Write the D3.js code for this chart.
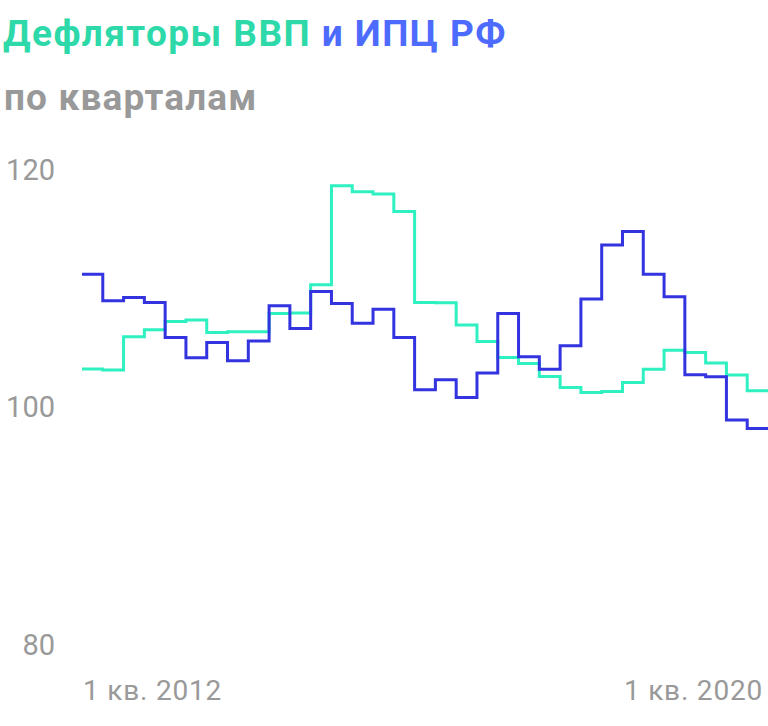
<!DOCTYPE html>
<html>
<head>
<meta charset="utf-8">
<script src="https://cdn.jsdelivr.net/npm/d3@7"></script>
<style>
  html, body { margin: 0; padding: 0; background: #fff; }
  svg { display: block; font-family: Roboto, "Noto Sans", sans-serif; }
</style>
</head>
<body>
<svg id="chart" width="768" height="726"></svg>
<script>
// Quarters 2012Q1 .. 2020Q1
const quarters = ["2012Q1","2012Q2","2012Q3","2012Q4","2013Q1","2013Q2","2013Q3","2013Q4",
  "2014Q1","2014Q2","2014Q3","2014Q4","2015Q1","2015Q2","2015Q3","2015Q4",
  "2016Q1","2016Q2","2016Q3","2016Q4","2017Q1","2017Q2","2017Q3","2017Q4",
  "2018Q1","2018Q2","2018Q3","2018Q4","2019Q1","2019Q2","2019Q3","2019Q4","2020Q1"];
// GDP deflator (teal)
const deflator = [103.25,103.15,105.95,106.54,107.24,107.36,106.32,106.37,
  106.37,107.92,107.95,110.33,118.67,118.16,117.97,116.5,
  108.85,108.82,106.94,105.56,104.21,103.71,102.61,101.68,
  101.26,101.35,102.1,103.23,104.83,104.63,103.74,102.73,101.41];
// CPI (blue)
const cpi = [111.23,108.99,109.26,108.84,105.9,104.2,105.47,103.93,
  105.6,108.56,106.65,109.77,108.76,107.1,108.28,105.9,
  101.49,102.33,100.84,102.9,107.92,104.27,103.23,105.2,
  109.13,113.68,114.82,111.23,109.32,102.75,102.58,98.94,98.23];
const yTicks = [80, 100, 120];
const xLabels = ["1 кв. 2012", "1 кв. 2020"];

const svg = d3.select("#chart");

// Title
const title = svg.append("text").attr("x", 3).attr("y", 46)
  .attr("font-size", 37).attr("font-weight", 700).attr("letter-spacing", 1.45);
title.append("tspan").attr("fill", "#2ed9a9").text("Дефляторы ВВП ");
title.append("tspan").attr("fill", "#4d6bfe").text("и ИПЦ РФ");

svg.append("text").attr("x", 4).attr("y", 110)
  .attr("font-size", 37).attr("font-weight", 700).attr("fill", "#999")
  .attr("letter-spacing", 1.15)
  .text("по кварталам");

const x = d3.scaleLinear().domain([0, quarters.length]).range([82, 768]);
const y = d3.scaleLinear().domain([80, 120]).range([645, 170]);

// Y axis (labels only)
const yAxis = svg.append("g").attr("transform", "translate(55,0)")
  .call(d3.axisLeft(y).tickValues(yTicks).tickSize(0).tickPadding(0));
yAxis.select(".domain").remove();
yAxis.selectAll("text").attr("font-size", 29).attr("fill", "#999")
  .attr("font-family", "Roboto, sans-serif");

// X labels
svg.append("text").attr("x", x(0) + 1).attr("y", 700)
  .attr("font-size", 28).attr("fill", "#999").attr("text-anchor", "start")
  .attr("letter-spacing", 0.8)
  .text(xLabels[0]);
svg.append("text").attr("x", x(quarters.length) - 5).attr("y", 700)
  .attr("font-size", 28).attr("fill", "#999").attr("text-anchor", "end")
  .attr("letter-spacing", 0.8)
  .text(xLabels[1]);

const line = d3.line()
  .x((d, i) => x(i))
  .y(d => y(d))
  .curve(d3.curveStepAfter);

function withEnd(arr) { return arr.concat([arr[arr.length - 1]]); }

svg.append("path").datum(withEnd(deflator))
  .attr("d", line).attr("fill", "none")
  .attr("stroke", "#2ef0c0").attr("stroke-width", 3);

svg.append("path").datum(withEnd(cpi))
  .attr("d", line).attr("fill", "none")
  .attr("stroke", "#3333e0").attr("stroke-width", 3);
</script>
</body>
</html>
